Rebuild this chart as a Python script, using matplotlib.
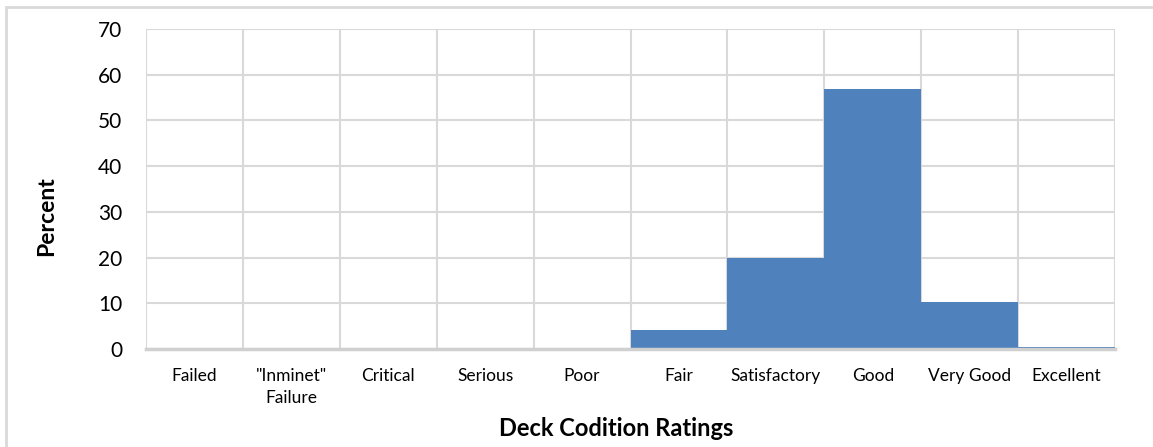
import matplotlib
matplotlib.use("Agg")
import matplotlib.pyplot as plt
from matplotlib.patches import Rectangle
import numpy as np

plt.rcParams['font.family'] = ['Lato', 'DejaVu Sans']

categories = ['Failed', '"Inminet"\nFailure', 'Critical', 'Serious', 'Poor',
              'Fair', 'Satisfactory', 'Good', 'Very Good', 'Excellent']
percent = [0, 0, 0, 0, 0, 4.05, 19.8, 56.9, 10.3, 0.4]
yticks = [0, 10, 20, 30, 40, 50, 60, 70]

grid_col = '#D9D9D9'
bar_col = '#4F81BD'

fig = plt.figure(figsize=(11.53, 4.47), dpi=100)
ax = fig.add_axes([146/1153, 1 - 349/447, (1115 - 146)/1153, (349 - 29)/447])

x = np.arange(len(categories))
ax.bar(x, percent, width=1.0, color=bar_col, zorder=3, linewidth=0)

ax.set_xlim(-0.5, len(categories) - 0.5)
ax.set_ylim(0, 70)
ax.set_yticks(yticks)
ax.set_xticks(x)
ax.set_xticklabels(categories, fontsize=12.5, color='#000000', linespacing=1.4)
ax.set_xticks(np.arange(-0.5, len(categories)), minor=True)
ax.tick_params(axis='both', which='both', length=0)
ax.tick_params(axis='x', pad=14)
ax.tick_params(axis='y', labelsize=15, pad=17)

ax.grid(axis='y', which='major', color=grid_col, linewidth=1.5, zorder=0)
ax.grid(axis='x', which='minor', color=grid_col, linewidth=1.5, zorder=0)
ax.grid(axis='x', which='major', visible=False)

for s in ['top', 'right', 'left']:
    ax.spines[s].set_visible(False)
ax.spines['bottom'].set_color('#D0D0D0')
ax.spines['bottom'].set_linewidth(2.5)
ax.spines['bottom'].set_zorder(4)

fig.text(47/1153, 1 - 216/447, 'Percent', rotation=90, fontsize=16.5,
         fontweight='bold', ha='center', va='center')
fig.text(616/1153, 1 - 428/447, 'Deck Codition Ratings', fontsize=17,
         fontweight='bold', ha='center', va='center')

# outer chart border
fig.patches.append(Rectangle((6/1153, -0.1), 1.2, 1 - 7/447 + 0.1,
                             transform=fig.transFigure, fill=False,
                             edgecolor=grid_col, linewidth=2))

fig.savefig('out.png', dpi=100)
